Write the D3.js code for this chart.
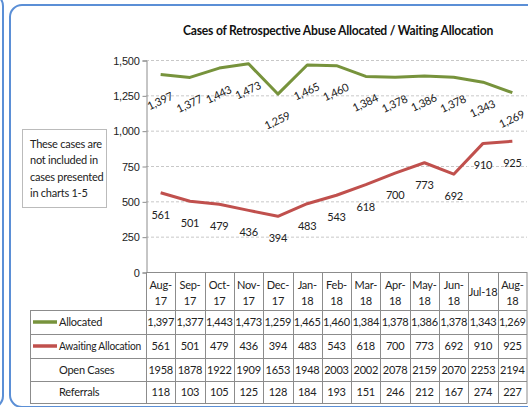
<!DOCTYPE html>
<html>
<head>
<meta charset="utf-8">
<script src="https://cdn.jsdelivr.net/npm/d3@7"></script>
<style>
  body { margin: 0; background: #fff; }
  svg { display: block; font-family: Lato, "Open Sans", sans-serif; }
  svg text { letter-spacing: -0.25px; }
</style>
</head>
<body>
<svg id="chart" width="528" height="407"></svg>
<script>
// chart data
var months = ["Aug-17","Sep-17","Oct-17","Nov-17","Dec-17","Jan-18","Feb-18","Mar-18","Apr-18","May-18","Jun-18","Jul-18","Aug-18"];
var allocated = [1397,1377,1443,1473,1259,1465,1460,1384,1378,1386,1378,1343,1269];
var awaiting = [561,501,479,436,394,483,543,618,700,773,692,910,925];
var openCases = [1958,1878,1922,1909,1653,1948,2003,2002,2078,2159,2070,2253,2194];
var referrals = [118,103,105,125,128,184,193,151,246,212,167,274,227];
var yTicks = [0,250,500,750,1000,1250,1500];

var green = "#77933c", red = "#c0504d", gridCol = "#c8c8c8", lineCol = "#8c8c8c";
var fs = 11;

var svg = d3.select("#chart");

// blue panel frames
svg.append("rect").attr("x", -200).attr("y", -6).attr("width", 203).attr("height", 414)
  .attr("rx", 12).attr("fill", "none").attr("stroke", "#5b8fd6").attr("stroke-width", 2);
svg.append("rect").attr("x", 10).attr("y", 5).attr("width", 540).attr("height", 402)
  .attr("rx", 12).attr("fill", "none").attr("stroke", "#5b8fd6").attr("stroke-width", 2);

var x = d3.scaleBand().domain(months).range([146, 527]);
var y = d3.scaleLinear().domain([0, 1500]).range([272, 60]);
var cx = function(d, i) { return x(months[i]) + x.bandwidth() / 2; };

// title
svg.append("text").attr("x", 183).attr("y", 35)
  .attr("font-size", 13).attr("font-weight", "bold").attr("fill", "#111")
  .attr("textLength", 310).attr("lengthAdjust", "spacingAndGlyphs")
  .text("Cases of Retrospective Abuse Allocated / Waiting Allocation");

// grid
svg.append("g").selectAll("line").data(yTicks.filter(function(t) { return t > 0; }))
  .enter().append("line")
  .attr("x1", 146).attr("x2", 527)
  .attr("y1", function(d) { return y(d) + 0.5; }).attr("y2", function(d) { return y(d) + 0.5; })
  .attr("stroke", gridCol).attr("stroke-dasharray", "3,2");

// y axis
var yAxis = d3.axisLeft(y).tickValues(yTicks).tickSize(4).tickFormat(d3.format(","));
var ya = svg.append("g").attr("transform", "translate(146.5,0.5)").call(yAxis);
ya.select(".domain").attr("stroke", lineCol);
ya.selectAll(".tick line").attr("stroke", lineCol);
ya.selectAll(".tick text").attr("font-size", fs).attr("fill", "#222").attr("x", -7)
  .attr("font-family", "inherit");

// lines
var line = d3.line().x(cx).y(function(d) { return y(d); });
svg.append("path").datum(allocated).attr("d", line).attr("fill", "none")
  .attr("stroke", green).attr("stroke-width", 3).attr("stroke-linejoin", "round");
svg.append("path").datum(awaiting).attr("d", line).attr("fill", "none")
  .attr("stroke", red).attr("stroke-width", 3).attr("stroke-linejoin", "round");

// data labels
svg.append("g").selectAll("text").data(allocated).enter().append("text")
  .attr("transform", function(d, i) { return "translate(" + (cx(d, i) + 1) + "," + (y(d) + 30) + ") rotate(-25)"; })
  .attr("text-anchor", "middle").attr("font-size", fs).attr("fill", "#222")
  .text(d3.format(","));
svg.append("g").selectAll("text").data(awaiting).enter().append("text")
  .attr("x", cx).attr("y", function(d) { return y(d) + 26; })
  .attr("text-anchor", "middle").attr("font-size", fs).attr("fill", "#222")
  .text(function(d) { return d; });

// note box
svg.append("rect").attr("x", 22.5).attr("y", 129.5).attr("width", 84).attr("height", 78)
  .attr("fill", "#fff").attr("stroke", "#bbb");
var note = ["These cases are", "not included in", "cases presented", "in charts 1-5"];
svg.append("g").selectAll("text").data(note).enter().append("text")
  .attr("x", 30).attr("y", function(d, i) { return 148 + i * 16.3; })
  .attr("font-size", fs).attr("fill", "#222").text(function(d) { return d; });

// data table
var rows = [
  { name: "Allocated", vals: allocated, key: green, fmt: d3.format(",") },
  { name: "Awaiting Allocation", vals: awaiting, key: red, fmt: String },
  { name: "Open Cases", vals: openCases, key: null, fmt: String },
  { name: "Referrals", vals: referrals, key: null, fmt: String }
];
var rowTop = [310, 334, 358, 381, 403];
var tbl = svg.append("g");
var tl = function(x1, y1, x2, y2) {
  tbl.append("line").attr("x1", x1).attr("y1", y1).attr("x2", x2).attr("y2", y2)
    .attr("stroke", lineCol).attr("stroke-width", 1);
};
// horizontal lines
tl(146, 272.5, 527, 272.5);
rowTop.forEach(function(r) { tl(30, r + 0.5, 527, r + 0.5); });
// vertical lines
tl(30.5, 310, 30.5, 403.5);
months.forEach(function(m) { tl(Math.round(x(m)) + 0.5, 272, Math.round(x(m)) + 0.5, 403.5); });
tl(527, 272, 527, 403.5);

// header labels
months.forEach(function(m, i) {
  var parts = m === "Jul-18" ? [m] : [m.split("-")[0] + "-", m.split("-")[1]];
  var t = tbl.append("text").attr("text-anchor", "middle").attr("font-size", fs).attr("fill", "#222");
  parts.forEach(function(p, j) {
    t.append("tspan").attr("x", cx(null, i))
      .attr("y", parts.length === 1 ? 296 : 289 + j * 16).text(p);
  });
});

rows.forEach(function(r, ri) {
  var mid = (rowTop[ri] + rowTop[ri + 1]) / 2 + 4;
  if (r.key) {
    tbl.append("line").attr("x1", 33).attr("x2", 57).attr("y1", mid - 4).attr("y2", mid - 4)
      .attr("stroke", r.key).attr("stroke-width", 3.5);
  }
  var lab = tbl.append("text").attr("x", 59).attr("y", mid).attr("font-size", fs).attr("fill", "#222").text(r.name);
  // squeeze long row names so they stay inside the label column
  if (lab.node().getComputedTextLength() > 82) {
    lab.attr("textLength", 82).attr("lengthAdjust", "spacingAndGlyphs");
  }
  tbl.selectAll(null).data(r.vals).enter().append("text")
    .attr("x", cx).attr("y", mid).attr("text-anchor", "middle")
    .attr("font-size", fs).attr("fill", "#222").text(r.fmt);
});
</script>
</body>
</html>
